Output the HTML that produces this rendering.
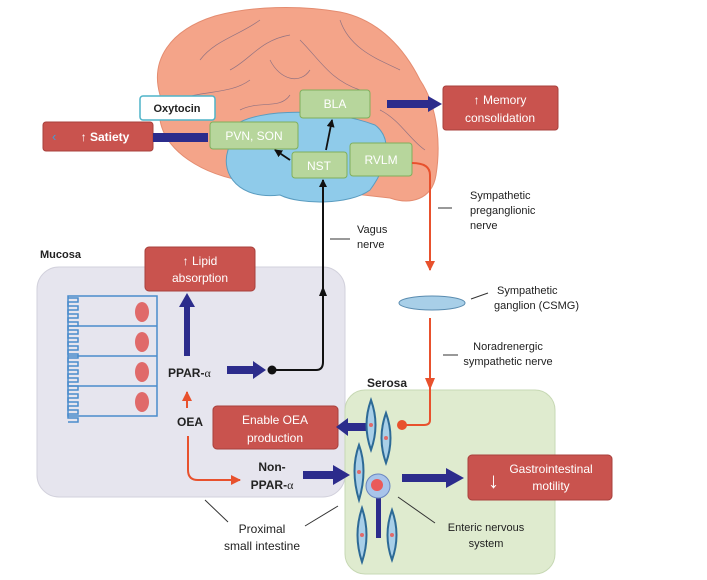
<!DOCTYPE html>
<html><head><meta charset="utf-8"><style>
html,body{margin:0;padding:0;background:#fff;}
svg{display:block;font-family:"Liberation Sans",sans-serif;}
.t{font-size:11px;fill:#222;}
.w{font-size:12px;fill:#fff;}
.g{font-size:12px;fill:#fff;}
</style></head><body>
<svg width="707" height="580" viewBox="0 0 707 580" xmlns="http://www.w3.org/2000/svg">
<defs>
<marker id="ab" markerWidth="8" markerHeight="8" refX="7" refY="4" orient="auto" markerUnits="userSpaceOnUse"><path d="M0,0 L8,4 L0,8 Z" fill="#111"/></marker>
<marker id="ar" markerWidth="10" markerHeight="10" refX="9" refY="5" orient="auto" markerUnits="userSpaceOnUse"><path d="M0,0 L10,5 L0,10 Z" fill="#e8512d"/></marker>
</defs>
<!-- brain -->
<path d="M160,95 C150,60 170,30 215,16 C250,6 300,5 340,12 C380,20 405,50 420,80 C440,110 440,150 436,175 C432,200 410,205 390,198 L250,182 C200,175 165,150 160,120 Z" fill="#f4a489" stroke="#e48c70" stroke-width="1"/>
<g stroke="#6b5f7f" stroke-width="0.7" fill="none" opacity="0.7">
<path d="M200,60 C215,40 240,35 260,20"/><path d="M230,70 C250,60 260,40 290,35"/><path d="M300,40 C320,60 330,80 360,90"/><path d="M340,20 C350,50 380,60 400,70"/><path d="M180,100 C200,90 230,95 250,80"/><path d="M270,60 C280,80 300,85 310,70"/><path d="M380,110 C400,120 410,140 425,150"/><path d="M240,110 C260,100 280,110 290,95"/>
</g>
<path d="M235,125 C260,108 330,108 375,125 C395,140 385,170 370,190 C350,205 300,205 280,195 C240,200 220,175 228,150 Z" fill="#8fcbea" stroke="#5a9cc0" stroke-width="1"/>
<!-- boxes brain -->
<rect x="140" y="96" width="75" height="24" rx="3" fill="#fff" stroke="#4fb4c8" stroke-width="1.5"/>
<text x="177" y="112" class="t" text-anchor="middle" font-weight="bold">Oxytocin</text>
<rect x="43" y="122" width="110" height="29" rx="3" fill="#c9534e" stroke="#a8403c"/>
<text x="52" y="141" font-size="13" fill="#3aa0dc">‹</text>
<text x="105" y="141" class="w" text-anchor="middle" font-weight="bold">↑ Satiety</text>
<rect x="153" y="133" width="55" height="9" fill="#2c2c8c"/>
<rect x="210" y="122" width="88" height="27" rx="3" fill="#b7d69c" stroke="#7faf5c"/>
<text x="254" y="140" class="g" text-anchor="middle">PVN, SON</text>
<rect x="300" y="90" width="70" height="28" rx="3" fill="#b7d69c" stroke="#7faf5c"/>
<text x="335" y="108" class="g" text-anchor="middle">BLA</text>
<rect x="292" y="152" width="55" height="26" rx="3" fill="#b7d69c" stroke="#7faf5c"/>
<text x="319" y="170" class="g" text-anchor="middle">NST</text>
<rect x="350" y="143" width="62" height="33" rx="3" fill="#b7d69c" stroke="#7faf5c"/>
<text x="381" y="164" class="g" text-anchor="middle">RVLM</text>
<line x1="326" y1="150" x2="332" y2="120" stroke="#111" stroke-width="1.8" marker-end="url(#ab)"/>
<line x1="290" y1="160" x2="275" y2="150" stroke="#111" stroke-width="1.8" marker-end="url(#ab)"/>
<path d="M387,100 L428,100 L428,96 L442,104 L428,112 L428,108 L387,108 Z" fill="#2c2c8c"/>
<rect x="443" y="86" width="115" height="44" rx="3" fill="#c9534e" stroke="#a8403c"/>
<text x="500" y="104" class="w" text-anchor="middle">↑ Memory</text>
<text x="500" y="122" class="w" text-anchor="middle">consolidation</text>
<line x1="330" y1="239" x2="350" y2="239" stroke="#333"/>
<text x="357" y="233" class="t">Vagus</text>
<text x="357" y="248" class="t">nerve</text>
<!-- sympathetic -->
<path d="M412,163 Q430,163 430,175 L430,270" stroke="#e8512d" stroke-width="2" fill="none" marker-end="url(#ar)"/>
<line x1="438" y1="208" x2="452" y2="208" stroke="#333"/>
<text x="470" y="199" class="t">Sympathetic</text>
<text x="470" y="214" class="t">preganglionic</text>
<text x="470" y="229" class="t">nerve</text>
<ellipse cx="432" cy="303" rx="33" ry="7" fill="#a8cfe8" stroke="#5a8cb0"/>
<line x1="471" y1="299" x2="488" y2="293" stroke="#333"/>
<text x="497" y="294" class="t">Sympathetic</text>
<text x="494" y="309" class="t">ganglion (CSMG)</text>
<line x1="443" y1="355" x2="458" y2="355" stroke="#333"/>
<text x="508" y="350" class="t" text-anchor="middle">Noradrenergic</text>
<text x="508" y="365" class="t" text-anchor="middle">sympathetic nerve</text>
<!-- mucosa -->
<text x="40" y="258" class="t" font-weight="bold">Mucosa</text>
<rect x="37" y="267" width="308" height="230" rx="22" fill="#e6e5ee" stroke="#d2d1dc"/>
<!-- vagus (drawn over panel) -->
<path d="M272,370 L316,370 Q323,370 323,362 L323,180" stroke="#111" stroke-width="2" fill="none" marker-end="url(#ab)"/>
<path d="M319,296 L323,286 L327,296 Z" fill="#111"/>
<circle cx="272" cy="370" r="4.5" fill="#111"/>
<rect x="145" y="247" width="110" height="44" rx="4" fill="#c9534e" stroke="#a8403c"/>
<text x="200" y="265" class="w" text-anchor="middle">↑  Lipid</text>
<text x="200" y="282" class="w" text-anchor="middle">absorption</text>
<g stroke="#4a8ccc" stroke-width="1.5" fill="none">
<rect x="68" y="296" width="89" height="120"/>
<line x1="68" y1="326" x2="157" y2="326"/><line x1="68" y1="356" x2="157" y2="356"/><line x1="68" y1="386" x2="157" y2="386"/>
<path d="M68,298 h10 v4 h-10 v4 h10 v4 h-10 v4 h10 v4 h-10 v4 h10 v4 h-10 v4 h10 v4 h-10 v4 h10 v4 h-10 v4 h10 v4 h-10 v4 h10 v4 h-10 v4 h10 v4 h-10 v4 h10 v4 h-10 v4 h10 v4 h-10 v4 h10 v4 h-10 v4 h10 v4 h-10 v4 h10 v4 h-10 v4 h10 v4 h-10 v4 h10 v4 h-10"/>
</g>
<g fill="#e06a6a"><ellipse cx="142" cy="312" rx="7" ry="10"/><ellipse cx="142" cy="342" rx="7" ry="10"/><ellipse cx="142" cy="372" rx="7" ry="10"/><ellipse cx="142" cy="402" rx="7" ry="10"/></g>
<path d="M184,356 L184,307 L179,307 L187,293 L195,307 L190,307 L190,356 Z" fill="#2c2c8c"/>
<text x="168" y="377" font-size="12" fill="#222" font-weight="bold">PPAR-<tspan font-weight="normal" font-family="Liberation Serif">α</tspan></text>
<path d="M227,366 L253,366 L253,361 L266,370 L253,379 L253,374 L227,374 Z" fill="#2c2c8c"/>
<line x1="187" y1="408" x2="187" y2="392" stroke="#e8512d" stroke-width="2" marker-end="url(#ar)"/>
<text x="190" y="426" font-size="12" fill="#222" font-weight="bold" text-anchor="middle">OEA</text>
<path d="M188,436 L188,470 Q188,480 198,480 L240,480" stroke="#e8512d" stroke-width="2" fill="none" marker-end="url(#ar)"/>
<text x="272" y="471" font-size="12" fill="#222" font-weight="bold" text-anchor="middle">Non-</text>
<text x="272" y="489" font-size="12" fill="#222" font-weight="bold" text-anchor="middle">PPAR-<tspan font-weight="normal" font-family="Liberation Serif">α</tspan></text>
<!-- serosa -->
<text x="367" y="387" font-size="12" fill="#222" font-weight="bold">Serosa</text>
<rect x="345" y="390" width="210" height="184" rx="20" fill="#dfebcf" stroke="#c7d8b4"/>
<path d="M430,318 L430,420 Q430,425 424,425 L404,425" stroke="#e8512d" stroke-width="2" fill="none"/>
<path d="M425,378 L430,390 L435,378 Z" fill="#e8512d"/>
<circle cx="402" cy="425" r="5" fill="#e8512d"/>
<rect x="213" y="406" width="125" height="43" rx="4" fill="#c9534e" stroke="#a8403c"/>
<text x="275" y="424" class="w" text-anchor="middle">Enable OEA</text>
<text x="275" y="442" class="w" text-anchor="middle">production</text>
<path d="M366,423 L348,423 L348,418 L336,427 L348,436 L348,431 L366,431 Z" fill="#2c2c8c"/>
<path d="M303,471 L333,471 L333,465 L350,475 L333,485 L333,479 L303,479 Z" fill="#2c2c8c"/>
<g fill="#a8cfe8" stroke="#2d6a96" stroke-width="2">
<path d="M371,400 Q380,425 371,450 Q362,425 371,400 Z"/>
<path d="M386,413 Q395,438 386,463 Q377,438 386,413 Z"/>
<path d="M359,445 Q368,470 359,500 Q350,470 359,445 Z"/>
<path d="M362,508 Q371,535 362,562 Q353,535 362,508 Z"/>
<path d="M392,510 Q401,535 392,560 Q383,535 392,510 Z"/>
</g>
<g fill="#e06a6a"><circle cx="371" cy="425" r="2"/><circle cx="386" cy="438" r="2"/><circle cx="359" cy="472" r="2"/><circle cx="362" cy="535" r="2"/><circle cx="392" cy="535" r="2"/></g>
<rect x="376" y="492" width="5" height="46" fill="#2c2c8c"/>
<circle cx="378" cy="486" r="12" fill="#a8c4ea" stroke="#6a86c0"/>
<circle cx="377" cy="485" r="6" fill="#ea5a5a"/>
<path d="M402,474 L446,474 L446,468 L464,478 L446,488 L446,482 L402,482 Z" fill="#2c2c8c"/>
<rect x="468" y="455" width="144" height="45" rx="4" fill="#c9534e" stroke="#a8403c"/>
<text x="488" y="488" font-size="22" fill="#fff">↓</text>
<text x="551" y="473" class="w" text-anchor="middle">Gastrointestinal</text>
<text x="551" y="490" class="w" text-anchor="middle">motility</text>
<line x1="398" y1="497" x2="435" y2="523" stroke="#333"/>
<text x="486" y="531" class="t" text-anchor="middle">Enteric nervous</text>
<text x="486" y="547" class="t" text-anchor="middle">system</text>
<line x1="205" y1="500" x2="228" y2="522" stroke="#333"/>
<line x1="305" y1="526" x2="338" y2="506" stroke="#333"/>
<text x="262" y="533" font-size="12" fill="#222" text-anchor="middle">Proximal</text>
<text x="262" y="550" font-size="12" fill="#222" text-anchor="middle">small intestine</text>
</svg>
</body></html>
